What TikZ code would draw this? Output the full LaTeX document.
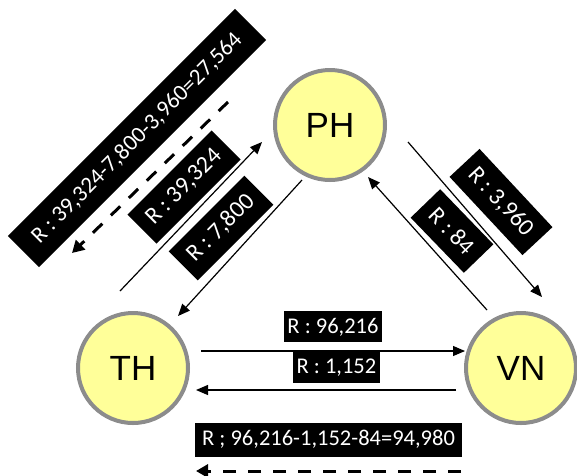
\documentclass[tikz,border=0pt]{standalone}
\usepackage{fontspec}
\setmainfont{Liberation Sans}
\newfontfamily\lblfont{Carlito}
\usetikzlibrary{arrows.meta,calc}
\definecolor{nodefill}{HTML}{FFFF99}
\definecolor{nodeedge}{HTML}{8C8C8C}
\tikzset{%
	country/.style  = {draw=nodeedge, fill=nodefill, circle, line width=4pt, minimum size=110pt, font=\fontsize{35}{40}\selectfont}, % Country
	flow/.style     = {line width=1.2pt, -{Triangle[length=12pt,width=10pt]}},
	net/.style      = {line width=3pt, dash pattern=on 13pt off 12pt, -{Triangle[length=12pt,width=13pt]}},
	lab/.style      = {fill=black, text=white, font=\lblfont\fontsize{22.5}{26}\selectfont, inner xsep=3.5pt, inner ysep=0pt, minimum height=31pt},
	slab/.style     = {lab, font=\lblfont\fontsize{24}{28}\selectfont, inner xsep=11pt, minimum height=41pt},
	waypoint/.style = {coordinate},
}
\begin{document}
\begin{tikzpicture}[x=1pt, y=-1pt]
	\useasboundingbox (0,0) rectangle (577,475);
	\node[country] (PH) at (330,125) {PH};
	\node[country] (TH) at (133,368) {TH};
	\node[country] (VN) at (521,368) {VN};
	
	% end points of the side arrows
	\coordinate (th1) at (120,291);
	\coordinate (ph1) at (262,142);
	\coordinate (ph2) at (302,180);
	\coordinate (th2) at (178,316);
	\coordinate (ph3) at (408,142);
	\coordinate (vn3) at (542,297);
	\coordinate (vn4) at (487,310);
	\coordinate (ph4) at (368,177);
	\coordinate (th5) at (201,351);
	\coordinate (vn5) at (465,351);
	\coordinate (vn6) at (456,390);
	\coordinate (th6) at (196,390);
	\coordinate (vn7) at (461,471);
	\coordinate (th7) at (196,471);
	\coordinate (ph8) at (228,102);
	\coordinate (th8) at (72,253);
	
	\draw[flow] (th1) -- (ph1);
	\draw[flow] (ph2) -- (th2);
	\draw[flow] (ph3) -- (vn3);
	\draw[flow] (vn4) -- (ph4);
	\draw[flow] (th5) -- node[lab,midway,above=8pt] {R : 96,216} (vn5);
	\draw[flow] (vn6) -- node[lab,pos=0.46,above=6pt] {R : 1,152} (th6);
	\draw[net] (vn7) -- node[lab,midway,above=13pt,inner xsep=7pt,minimum height=34pt] {R ; 96,216-1,152-84=94,980} (th7);
	\draw[net] (ph8) -- (th8);
	
	\node[slab,rotate=45] (l1) at (184,187) {R : 39,324};
	\node[slab,rotate=45] (l2) at (221,228) {R : 7,800};
	\node[slab,rotate=-47] (l3) at (501,202) {R : 3,960};
	\node[slab,rotate=-46] (l4) at (452,231) {R : 84};
	\node[slab,rotate=45,font=\lblfont\fontsize{23}{27}\selectfont,inner xsep=17pt,minimum height=44pt] (l5) at (137,138) {R : 39,324-7,800-3,960=27,564};
\end{tikzpicture}
\end{document}
